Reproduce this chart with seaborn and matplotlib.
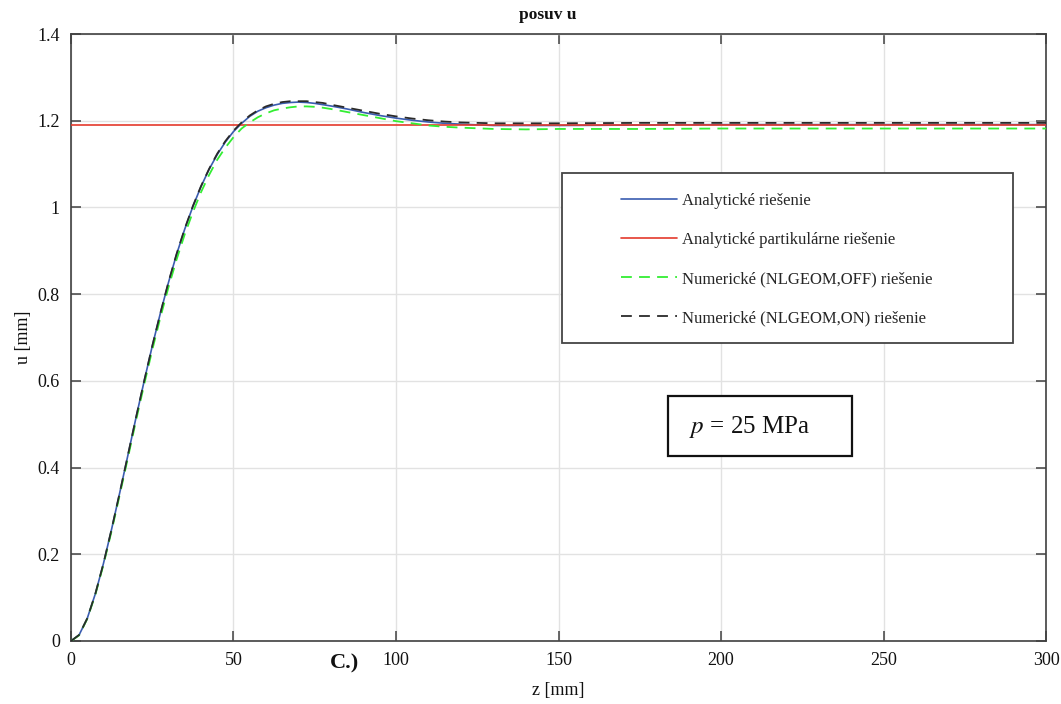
import matplotlib
matplotlib.use("Agg")
import matplotlib.pyplot as plt
import seaborn as sns
import pandas as pd
from matplotlib.patches import Rectangle

# ---------------- data ----------------
z_vals = [0, 2.5, 5, 7.5, 10, 12.5, 15, 17.5, 20, 22.5, 25, 27.5, 30, 32.5,
          35, 37.5, 40, 42.5, 45, 47.5, 50, 52.5, 55, 57.5, 60, 62.5, 65,
          67.5, 70, 72.5, 75, 77.5, 80, 85, 90, 95, 100, 105, 110, 115, 120,
          130, 140, 150, 175, 200, 250, 300]

u_analytic = [0.0, 0.014, 0.052, 0.109, 0.179, 0.258, 0.342, 0.428, 0.515,
              0.599, 0.680, 0.756, 0.827, 0.892, 0.950, 1.002, 1.048, 1.088,
              1.122, 1.151, 1.175, 1.194, 1.210, 1.222, 1.230, 1.236, 1.240,
              1.242, 1.243, 1.242, 1.240, 1.237, 1.234, 1.227, 1.219, 1.212,
              1.206, 1.201, 1.197, 1.194, 1.192, 1.189, 1.189, 1.189, 1.190,
              1.191, 1.191, 1.191]

u_nlgeom_off = [0.0, 0.013, 0.051, 0.107, 0.176, 0.254, 0.337, 0.422, 0.508,
                0.591, 0.671, 0.746, 0.816, 0.880, 0.938, 0.989, 1.035, 1.075,
                1.110, 1.138, 1.162, 1.182, 1.196, 1.208, 1.217, 1.224, 1.228,
                1.231, 1.233, 1.233, 1.232, 1.230, 1.227, 1.220, 1.213, 1.206,
                1.199, 1.194, 1.189, 1.186, 1.184, 1.181, 1.180, 1.181, 1.181,
                1.182, 1.182, 1.182]

u_nlgeom_on = [0.0, 0.014, 0.052, 0.109, 0.179, 0.258, 0.342, 0.428, 0.515,
               0.599, 0.680, 0.756, 0.828, 0.893, 0.951, 1.003, 1.049, 1.089,
               1.124, 1.153, 1.177, 1.196, 1.212, 1.224, 1.233, 1.239, 1.243,
               1.245, 1.245, 1.245, 1.243, 1.241, 1.237, 1.230, 1.223, 1.216,
               1.210, 1.205, 1.201, 1.198, 1.196, 1.194, 1.194, 1.194, 1.195,
               1.195, 1.195, 1.195]

z_particular = [0, 300]
u_particular = [1.191, 1.191]

series_labels = ["Analytické riešenie",
                 "Analytické partikulárne riešenie",
                 "Numerické (NLGEOM,OFF) riešenie",
                 "Numerické (NLGEOM,ON) riešenie"]

x_ticks = [0, 50, 100, 150, 200, 250, 300]
x_tick_labels = ["0", "50", "100", "150", "200", "250", "300"]
y_ticks = [0, 0.2, 0.4, 0.6, 0.8, 1.0, 1.2, 1.4]
y_tick_labels = ["0", "0.2", "0.4", "0.6", "0.8", "1", "1.2", "1.4"]

title_text = "posuv u"
x_label = "z [mm]"
y_label = "u [mm]"
panel_label = "C.)"
pressure_text = r"$p$ = 25 MPa"

# ---------------- style ----------------
sns.set_theme(style="white")
plt.rcParams["font.family"] = ["Liberation Serif", "DejaVu Serif"]
plt.rcParams["mathtext.fontset"] = "stix"

fig = plt.figure(figsize=(10.61, 7.04), dpi=100)
ax = fig.add_axes([0.0669, 0.0895, 0.9190, 0.8622])

df_a = pd.DataFrame({"z": z_vals, "u": u_analytic})
df_p = pd.DataFrame({"z": z_particular, "u": u_particular})
df_off = pd.DataFrame({"z": z_vals, "u": u_nlgeom_off})
df_on = pd.DataFrame({"z": z_vals, "u": u_nlgeom_on})

sns.lineplot(data=df_a, x="z", y="u", ax=ax, color="#3a5cb0", lw=1.2,
             estimator=None, sort=False, label=series_labels[0], zorder=3)
sns.lineplot(data=df_p, x="z", y="u", ax=ax, color="#e43a2c", lw=1.2,
             estimator=None, sort=False, label=series_labels[1], zorder=4)
sns.lineplot(data=df_off, x="z", y="u", ax=ax, color="#33ee33", lw=1.3,
             estimator=None, sort=False, label=series_labels[2], zorder=5,
             dashes=False, linestyle=(0, (6, 4)))
sns.lineplot(data=df_on, x="z", y="u", ax=ax, color="#2a2a2a", lw=1.3,
             estimator=None, sort=False, label=series_labels[3], zorder=6,
             dashes=False, linestyle=(0, (6, 4)))

ax.set_xlim(0, 300)
ax.set_ylim(0, 1.4)
ax.set_xticks(x_ticks)
ax.set_xticklabels(x_tick_labels)
ax.set_yticks(y_ticks)
ax.set_yticklabels(y_tick_labels)

ax.grid(True, color="#e2e2e2", lw=1.0, zorder=0)
ax.set_axisbelow(True)
for s in ax.spines.values():
    s.set_visible(True)
    s.set_color("#404040")
    s.set_linewidth(1.2)

ax.tick_params(axis="both", direction="in", length=7, width=1.1,
               color="#404040", labelsize=13, labelcolor="#111111",
               top=True, right=True, bottom=True, left=True, pad=8)

ax.set_xlabel(x_label, fontsize=13, color="#111111", labelpad=9)
ax.set_ylabel(y_label, fontsize=13, color="#111111", labelpad=4)
ax.set_title(title_text, fontsize=12.5, fontweight="bold", color="#111111",
             pad=11, x=0.489)

# legend box (frame drawn separately)
ax.add_patch(Rectangle((0.5036, 0.491), 0.4626, 0.280, transform=ax.transAxes,
                       facecolor="white", edgecolor="#444444", lw=1.3, zorder=7))
leg = ax.legend(loc="upper left", bbox_to_anchor=(0.5636, 0.738),
                frameon=False, fontsize=12, handlelength=3.4,
                handletextpad=0.3, labelspacing=1.38, borderpad=0,
                borderaxespad=0)
leg.set_zorder(8)

# pressure box
ax.add_patch(Rectangle((0.6123, 0.3048), 0.1887, 0.0988, transform=ax.transAxes,
                       facecolor="white", edgecolor="#111111", lw=1.6, zorder=7))
ax.text(0.6964, 0.3048 + 0.048, pressure_text, transform=ax.transAxes,
        ha="center", va="center", fontsize=18, color="#111111", zorder=8)

fig.text(0.325, 0.058, panel_label, ha="center", va="center", fontsize=16,
         fontweight="bold", color="#111111")

fig.savefig("out.png", dpi=100)
